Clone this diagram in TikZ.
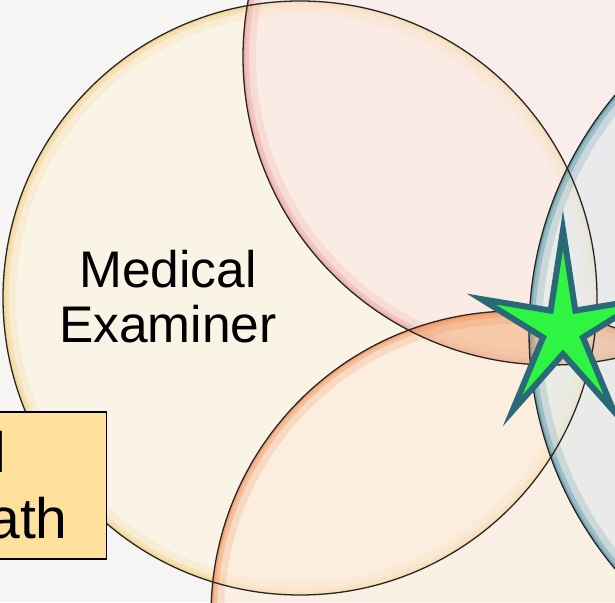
\documentclass[tikz,border=0pt]{standalone}
\usepackage{fontspec}
\setmainfont{Liberation Sans}
\usepackage{tikz}

\definecolor{paper}{HTML}{F6F5F3}
\definecolor{yellowfill}{HTML}{FFF4DC}
\definecolor{yellowrim}{HTML}{F0CF7E}
\definecolor{pinkfill}{HTML}{FBE6E2}
\definecolor{pinkrim}{HTML}{E99C94}
\definecolor{orangefill}{HTML}{FDEAD8}
\definecolor{orangerim}{HTML}{EF8E50}
\definecolor{bluefill}{HTML}{DCE9EC}
\definecolor{bluerim}{HTML}{4A90A2}
\definecolor{boxfill}{HTML}{FFE19D}
\definecolor{stargreen}{HTML}{2EF542}
\definecolor{starteal}{HTML}{2A6A78}

\begin{document}
\begin{tikzpicture}[x=1pt,y=1pt,
bubble/.style={draw=black!85,line width=1.3pt},
bubbletext/.style={align=center,inner sep=0pt,font=\fontsize{51.5}{55}\selectfont},
deathbox/.style={draw,line width=1.2pt,fill=boxfill,minimum height=147pt,
    text width=106pt,inner xsep=12pt,inner ysep=0pt,align=left,
    font=\fontsize{57}{66}\selectfont},
starline/.style={draw=starteal,fill=stargreen,line width=6pt}]

\useasboundingbox (0,0) rectangle (615,602);
\clip (0,0) rectangle (615,602);
\fill[paper] (0,0) rectangle (615,602);

% bubble centres
\coordinate (yellowc) at (300,304);
\coordinate (pinkc) at (551,545);
\coordinate (orangec) at (515,-13);
\coordinate (bluec) at (898,270);

% translucent fills with a coloured rim inside each bubble
\foreach \c/\r/\fc/\rc in {yellowc/297/yellowfill/yellowrim,
    pinkc/308/pinkfill/pinkrim,
    orangec/304/orangefill/orangerim,
    bluec/369/bluefill/bluerim}{
  \begin{scope}
    \clip (\c) circle[radius=\r];
    \fill[\fc,fill opacity=.5] (\c) circle[radius=\r];
    \draw[\rc,line width=26pt,draw opacity=.2] (\c) circle[radius=\r];
    \draw[\rc,line width=12pt,draw opacity=.35] (\c) circle[radius=\r];
    \draw[\rc,line width=5pt,draw opacity=.5] (\c) circle[radius=\r];
  \end{scope}
}

% deeper tint where the pink and orange bubbles overlap
\begin{scope}
  \clip (pinkc) circle[radius=308];
  \fill[orangerim,fill opacity=.35] (orangec) circle[radius=304];
\end{scope}

% outlines on top
\foreach \c/\r in {yellowc/297,pinkc/308,orangec/304,bluec/369}
  \draw[bubble] (\c) circle[radius=\r];

\node (examiner) [bubbletext] at (168,305) {Medical\\Examiner};

\node (death) [deathbox,anchor=east] at (107,116.5) {\hspace*{5pt}l\\ath};

% the star
\coordinate (mark) at (563,272);
\draw[starline,shift={(mark)}] (90:86 and 100) -- (126:21 and 24)
  -- (162:86 and 100) -- (198:21 and 24)
  -- (234:86 and 100) -- (270:21 and 24)
  -- (306:86 and 100) -- (342:21 and 24)
  -- (18:86 and 100) -- (54:21 and 24) -- cycle;
\end{tikzpicture}
\end{document}
